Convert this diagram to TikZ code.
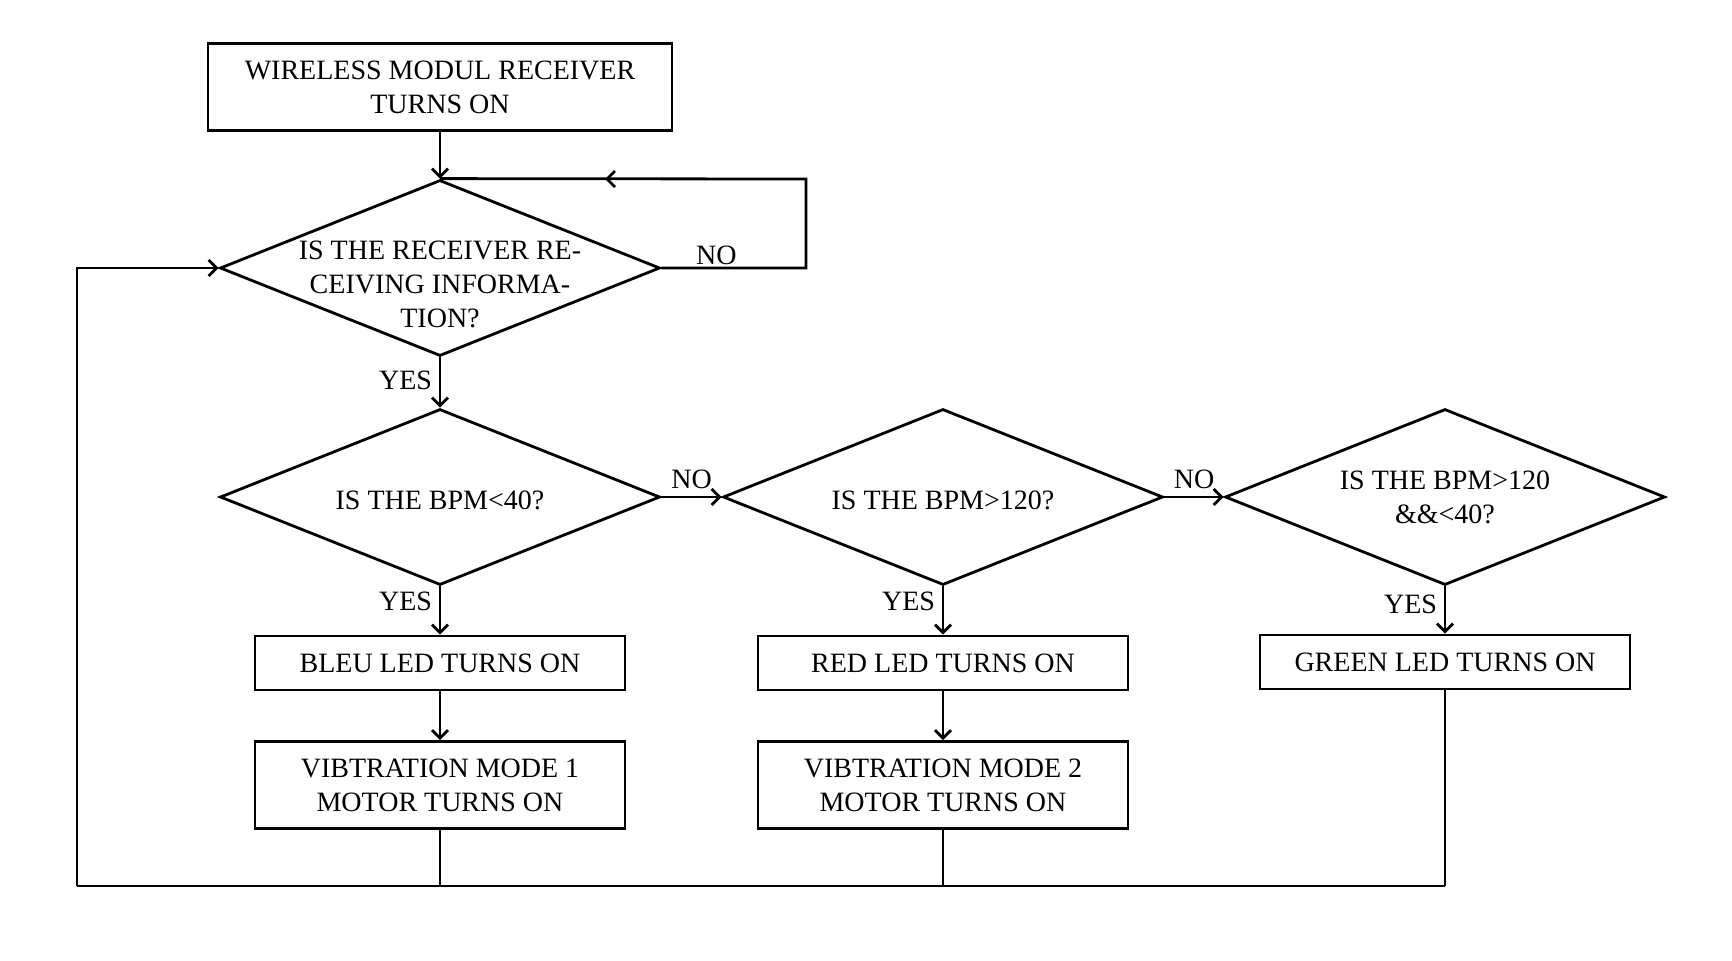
\documentclass[tikz,border=0pt]{standalone}
\usepackage{fontspec}
\setmainfont{Liberation Serif}
\usepackage{tikz}
\usetikzlibrary{arrows.meta,shapes.geometric}

\begin{document}
\begin{tikzpicture}[x=0.5pt,y=-0.5pt,
  font=\fontsize{14}{17}\selectfont,
  line/.style={line width=1.4pt,black},
  flow/.style={line,-{Straight Barb[length=4pt,width=8pt]}},
  process/.style={draw,line width=1.4pt,rectangle,minimum width=185pt,minimum height=27pt,align=center,inner sep=0pt},
  tallbox/.style={process,minimum height=43.5pt},
  decision/.style={draw,line width=1.4pt,diamond,aspect=2.5,minimum width=220pt,minimum height=88pt,inner sep=0pt,align=center}
]
\useasboundingbox (0,0) rectangle (1732,960);
%--- start and receive check ---
\node[process,minimum width=232pt,minimum height=43.5pt] (start) at (440,87) {WIRELESS MODUL RECEIVER\\TURNS ON};
\node[decision,label={[align=center,yshift=-8pt]center:IS THE RECEIVER RE-\\CEIVING INFORMA-\\TION?}] (recv) at (440,268) {};
%--- bpm checks ---
\node[decision,text height=13pt] (low) at (440,497) {IS THE BPM<40?};
\node[decision,text height=13pt] (high) at (943,497) {IS THE BPM>120?};
\node[decision] (normal) at (1445,497) {IS THE BPM>120\\\&\&<40?};
%--- outputs ---
\node[process] (bleu) at (440,663) {BLEU LED TURNS ON};
\node[process] (red) at (943,663) {RED LED TURNS ON};
\node[process] (green) at (1445,662) {GREEN LED TURNS ON};
\node[tallbox] (vib1) at (440,785) {VIBTRATION MODE 1\\MOTOR TURNS ON};
\node[tallbox] (vib2) at (943,785) {VIBTRATION MODE 2\\MOTOR TURNS ON};
% loop and return points
\coordinate (loopR) at (806,179);
\coordinate (loopM) at (605,179);
\coordinate (botL) at (77,886);

\draw[flow] (start) -- (recv.north);
\draw[line] (recv.east) -- node[above,pos=0.38,inner sep=1pt] {NO} (recv.east -| loopR) -- (loopR) -- (recv.north);
\draw[flow] (loopR) -- (loopM);
\draw[flow] (recv.south) -- node[left,pos=0.45] {YES} (low.north);
\draw[flow] (low.east) -- node[above] {NO} (high.west);
\draw[flow] (high.east) -- node[above] {NO} (normal.west);
\draw[flow] (low.south) -- node[left,pos=0.3] {YES} (bleu.north);
\draw[flow] (high.south) -- node[left,pos=0.3] {YES} (red.north);
\draw[flow] (normal.south) -- node[left,pos=0.38] {YES} (green.north);
\draw[flow] (bleu) -- (vib1);
\draw[flow] (red) -- (vib2);
% back to the receiver
\draw[line] (vib1.south) -- (vib1.south |- botL);
\draw[line] (vib2.south) -- (vib2.south |- botL);
\draw[line] (green.south) -- (green.south |- botL);
\draw[line] (green.south |- botL) -- (botL);
\draw[flow] (botL) |- (recv.west);
\end{tikzpicture}
\end{document}
